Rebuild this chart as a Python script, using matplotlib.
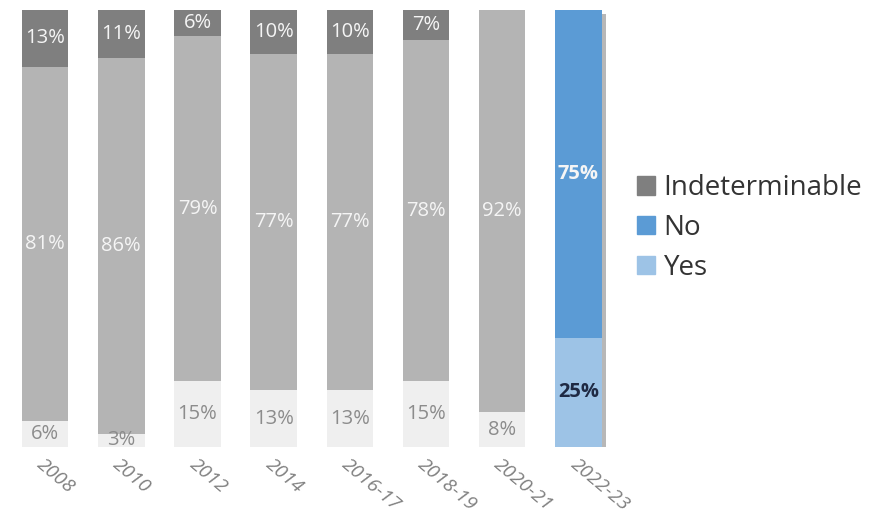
import matplotlib.pyplot as plt
from matplotlib.patches import Patch
import matplotlib.patheffects as pe

years = ['2008', '2010', '2012', '2014', '2016-17', '2018-19', '2020-21', '2022-23']
yes = [6, 3, 15, 13, 13, 15, 8, 25]
no = [81, 86, 79, 77, 77, 78, 92, 75]
indet = [13, 11, 6, 10, 10, 7, 0, 0]

plt.rcParams['font.family'] = ['Open Sans', 'DejaVu Sans']

fig = plt.figure(figsize=(8.77, 5.18), dpi=100)
ax = fig.add_axes([0.008, 0.137, 0.695, 0.844])

x = list(range(len(years)))
w = 0.61
last = len(years) - 1

yes_col = ['#efefef'] * last + ['#9dc3e6']
no_col = ['#b4b4b4'] * last + ['#5b9bd5']
ind_col = '#7f7f7f'

bottom_no = yes
bottom_ind = [a + b for a, b in zip(yes, no)]

# shadow behind the latest bar
sh = ax.bar([last], [yes[last] + no[last]], w, color='white', zorder=1)
sh[0].set_path_effects([pe.SimplePatchShadow(offset=(3, -3), alpha=0.4), pe.Normal()])

ax.bar(x, yes, w, color=yes_col, zorder=2)
ax.bar(x, no, w, bottom=bottom_no, color=no_col, zorder=2)
ax.bar(x, indet, w, bottom=bottom_ind, color=ind_col, zorder=2)

fs = 14.5
for i in x:
    bold = 'bold' if i == last else 'normal'
    ax.text(i, yes[i] / 2, f'{yes[i]}%', ha='center', va='center', fontsize=fs,
            color='#1f2a44' if i == last else '#8c8c8c', fontweight=bold, zorder=3)
    ax.text(i, bottom_no[i] + no[i] / 2, f'{no[i]}%', ha='center', va='center', fontsize=fs,
            color='#f5f5f5', fontweight=bold, zorder=3)
    if indet[i] > 0:
        ax.text(i, bottom_ind[i] + indet[i] / 2, f'{indet[i]}%', ha='center', va='center',
                fontsize=fs, color='#f5f5f5', zorder=3)

ax.set_xlim(-0.5, len(years) - 0.5)
ax.set_ylim(0, 100)
ax.set_xticks(x)
ax.set_xticklabels(years, rotation=-40, ha='left', rotation_mode='anchor',
                   fontsize=14, color='#808080', style='italic')
ax.tick_params(axis='x', length=0, pad=6)
ax.set_yticks([])
for s in ax.spines.values():
    s.set_visible(False)

handles = [Patch(color='#7f7f7f'), Patch(color='#5b9bd5'), Patch(color='#9dc3e6')]
fig.legend(handles, ['Indeterminable', 'No', 'Yes'], loc='center left',
           bbox_to_anchor=(0.698, 0.56), frameon=False, fontsize=20,
           handlelength=0.65, handleheight=0.65, handletextpad=0.3,
           labelspacing=0.42, labelcolor='#333333')

fig.savefig('out.png', dpi=100)
